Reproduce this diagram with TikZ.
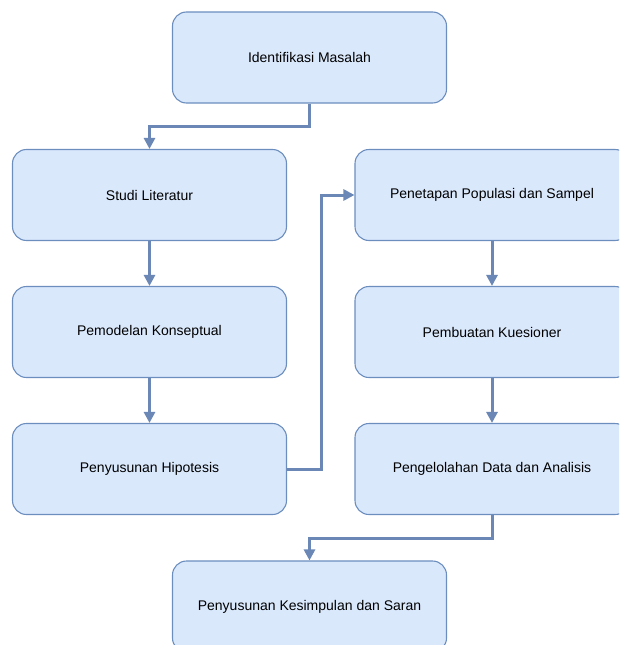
\documentclass[tikz,border=0pt]{standalone}
\usepackage{fontspec}
\setmainfont{Liberation Sans}
\usetikzlibrary{arrows.meta}

\definecolor{boxfill}{HTML}{DAE8FC}
\definecolor{boxline}{HTML}{6C8EBF}
\definecolor{flowline}{HTML}{6A87B5}

\tikzset{
    stage/.style={draw=boxline, fill=boxfill, line width=1.1pt, rounded corners=14pt,
        minimum width=274pt, minimum height=91pt, inner sep=0pt,
        font=\fontsize{14}{16}\selectfont},
    flow/.style={draw=flowline, line width=3pt,
        -{Triangle[length=11pt,width=11pt]}}
}

\begin{document}
\begin{tikzpicture}[x=1pt,y=-1pt]
        \useasboundingbox (0,0) rectangle (619,645);
        \clip (0,0) rectangle (619,645);

        % left column
        \node[stage] (identifikasi) at (309.5, 57.5) {Identifikasi Masalah};
        \node[stage] (studi)        at (149.5, 195)  {Studi Literatur};
        \node[stage] (pemodelan)    at (149.5, 332)  {Pemodelan Konseptual};
        \node[stage] (hipotesis)    at (149.5, 469)  {Penyusunan Hipotesis};

        % right column
        \node[stage] (populasi)     at (492, 195)    {Penetapan Populasi dan Sampel};
        \node[stage] (kuesioner)    at (492, 332)    {Pembuatan Kuesioner};
        \node[stage] (analisis)     at (492, 469)    {Pengelolahan Data dan Analisis};

        \node[stage] (kesimpulan)   at (309.5, 606.5) {Penyusunan Kesimpulan dan Saran};

        \draw[flow] (identifikasi.south) |- (149.5, 126) -- (studi.north);
        \draw[flow] (studi) -- (pemodelan);
        \draw[flow] (pemodelan) -- (hipotesis);
        \draw[flow] (hipotesis.east) -| (321, 195) -- (populasi.west);
        \draw[flow] (populasi) -- (kuesioner);
        \draw[flow] (kuesioner) -- (analisis);
        \draw[flow] (analisis.south) |- (309.5, 538) -- (kesimpulan.north);
    \end{tikzpicture}
\end{document}
